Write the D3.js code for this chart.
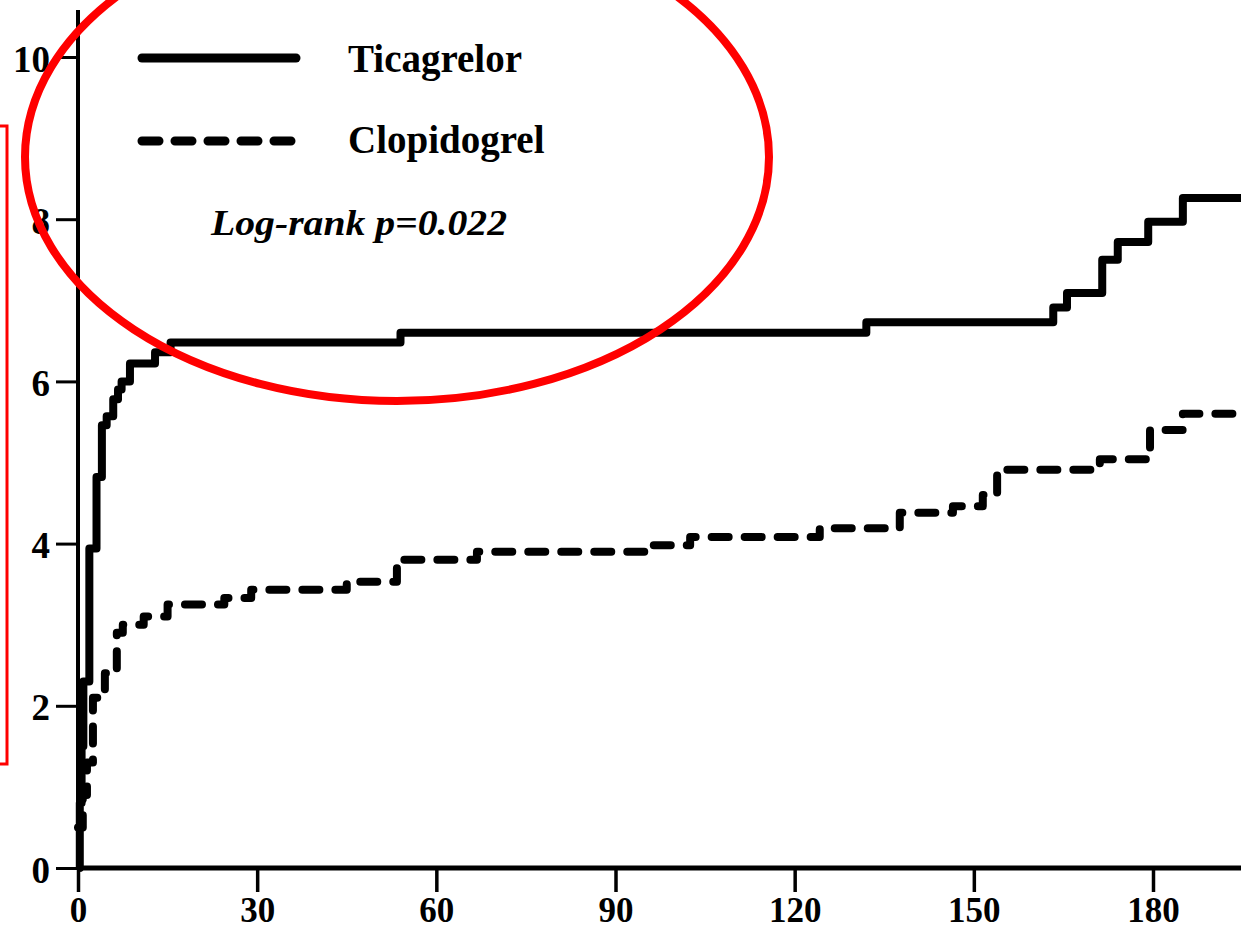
<!DOCTYPE html>
<html>
<head>
<meta charset="utf-8">
<script src="https://cdn.jsdelivr.net/npm/d3@7/dist/d3.min.js"></script>
<style>
  html, body { margin: 0; padding: 0; background: #fff; }
  svg { display: block; }
  text { font-family: "Liberation Serif", "Times New Roman", serif; font-weight: bold; fill: #000; }
</style>
</head>
<body>
<svg id="chart" width="1241" height="930"></svg>
<script>
// Cumulative incidence (%) over days of follow-up, step function per arm
const ticagrelorDays   = [0, 0.3, 0.6, 0.9, 1.9, 3.1, 4.0, 4.8, 5.9, 6.7, 7.3, 8.7, 12.9, 15.5, 54.0, 132.0, 163.3, 165.6, 171.5, 174.1, 179.2, 185.0];
const ticagrelorValues = [0, 0.8, 1.5, 2.3, 3.94, 4.82, 5.46, 5.57, 5.78, 5.9, 6.0, 6.22, 6.36, 6.48, 6.6, 6.73, 6.91, 7.09, 7.5, 7.72, 7.97, 8.26];

const clopidogrelDays   = [0, 0.8, 1.5, 2.5, 4.5, 6.5, 7.5, 11.0, 15.0, 24.5, 29.0, 45.0, 53.4, 66.8, 95.8, 102.5, 124.2, 137.6, 146.5, 151.5, 153.9, 171.1, 179.5, 185.0];
const clopidogrelValues = [0.5, 0.9, 1.3, 2.1, 2.4, 2.9, 3.0, 3.1, 3.25, 3.33, 3.43, 3.53, 3.8, 3.9, 3.98, 4.08, 4.19, 4.38, 4.46, 4.6, 4.91, 5.04, 5.4, 5.6];

const xTicks = [0, 30, 60, 90, 120, 150, 180];
const yTicks = [0, 2, 4, 6, 8, 10];
const seriesNames = ["Ticagrelor", "Clopidogrel"];
const pValueLabel = "Log-rank p=0.022";
const xEnd = 195;

const svg = d3.select("#chart");

const x = d3.scaleLinear().domain([0, 180]).range([78, 1153]);
const y = d3.scaleLinear().domain([0, 10]).range([868, 57]);

// Axes
const xAxis = d3.axisBottom(x).tickValues(xTicks).tickSize(24).tickSizeOuter(0).tickPadding(5);
const yAxis = d3.axisLeft(y).tickValues(yTicks).tickSize(22).tickSizeOuter(0).tickPadding(6);

const gx = svg.append("g").attr("transform", `translate(0,${y(0)})`).call(xAxis);
gx.select(".domain").remove();
gx.selectAll(".tick line").attr("stroke", "#000").attr("stroke-width", 3.5);
gx.selectAll(".tick text")
  .attr("font-size", 35)
  .style("font-family", "'Liberation Serif', serif").style("font-weight", "bold");

const gy = svg.append("g").attr("transform", `translate(${x(0)},0)`).call(yAxis);
gy.select(".domain").remove();
gy.selectAll(".tick line").attr("stroke", "#000").attr("stroke-width", 3);
gy.selectAll(".tick text")
  .attr("font-size", 37).attr("dy", "0.38em")
  .style("font-family", "'Liberation Serif', serif").style("font-weight", "bold");

// Axis lines
svg.append("line")
  .attr("x1", x(0)).attr("x2", x(xEnd))
  .attr("y1", y(0)).attr("y2", y(0))
  .attr("stroke", "#000").attr("stroke-width", 5);
svg.append("line")
  .attr("x1", x(0)).attr("x2", x(0))
  .attr("y1", y(10.58)).attr("y2", y(0))
  .attr("stroke", "#000").attr("stroke-width", 4);

// Survival-style step curves
const line = d3.line()
  .x(d => x(d[0]))
  .y(d => y(d[1]))
  .curve(d3.curveStepAfter);

function series(days, values) {
  const pts = days.map((d, i) => [d, values[i]]);
  pts.push([xEnd, values[values.length - 1]]);
  return pts;
}

svg.append("path")
  .datum(series(clopidogrelDays, clopidogrelValues))
  .attr("d", line)
  .attr("fill", "none")
  .attr("stroke", "#000")
  .attr("stroke-width", 8)
  .attr("stroke-linecap", "round")
  .attr("stroke-linejoin", "round")
  .attr("stroke-dasharray", "17 16");

svg.append("path")
  .datum(series(ticagrelorDays, ticagrelorValues))
  .attr("d", line)
  .attr("fill", "none")
  .attr("stroke", "#000")
  .attr("stroke-width", 8)
  .attr("stroke-linejoin", "round");

// Legend
const legend = svg.append("g");
legend.append("line")
  .attr("x1", 142).attr("x2", 296).attr("y1", 58).attr("y2", 58)
  .attr("stroke", "#000").attr("stroke-width", 9).attr("stroke-linecap", "round");
legend.append("line")
  .attr("x1", 142).attr("x2", 300).attr("y1", 141).attr("y2", 141)
  .attr("stroke", "#000").attr("stroke-width", 9).attr("stroke-linecap", "round")
  .attr("stroke-dasharray", "17 16");
legend.append("text").attr("x", 348).attr("y", 72).attr("font-size", 39).text(seriesNames[0]);
legend.append("text").attr("x", 348).attr("y", 153).attr("font-size", 39).text(seriesNames[1]);
legend.append("text").attr("x", 211).attr("y", 235).attr("font-size", 36)
  .attr("font-style", "italic")
  .attr("textLength", 296).attr("lengthAdjust", "spacingAndGlyphs")
  .text(pValueLabel);

// Red highlight marks
svg.append("rect")
  .attr("x", -40).attr("y", 126).attr("width", 47).attr("height", 638)
  .attr("fill", "none").attr("stroke", "#ff0000").attr("stroke-width", 3);
svg.append("ellipse")
  .attr("cx", 397).attr("cy", 157).attr("rx", 372).attr("ry", 244)
  .attr("fill", "none").attr("stroke", "#ff0000").attr("stroke-width", 8);
</script>
</body>
</html>
